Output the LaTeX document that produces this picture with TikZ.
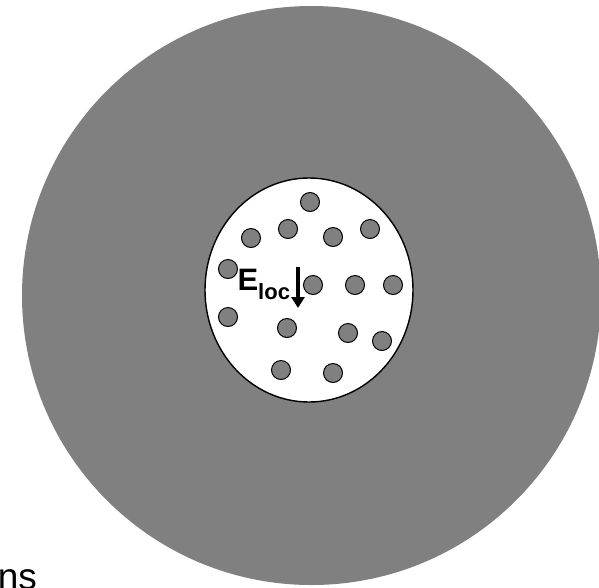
\documentclass[tikz,border=0pt]{standalone}
\usepackage{fontspec}
\setmainfont{Liberation Sans}
\usetikzlibrary{arrows.meta}
\definecolor{midgray}{RGB}{128,128,128}
\tikzset{
  particle/.style={circle,draw=black,fill=midgray,line width=1pt,minimum size=19pt,inner sep=0pt},
  txt/.style={inner sep=0pt,anchor=base west},
}
\begin{document}
\begin{tikzpicture}[x=1pt,y=-1pt]
\useasboundingbox (0,0) rectangle (599,587);
\fill[midgray] (311.5,295.5) circle[radius=289.5];
\draw[fill=white,line width=1.4pt] (309,290) ellipse[x radius=104,y radius=112];
\node[particle] (p1) at (310,202) {};
\node[particle] (p2) at (251,238) {};
\node[particle] (p3) at (288,229) {};
\node[particle] (p4) at (333,237) {};
\node[particle] (p5) at (370,229) {};
\node[particle] (p6) at (228,269) {};
\node[particle] (p7) at (313,285) {};
\node[particle] (p8) at (355,285) {};
\node[particle] (p9) at (393,285) {};
\node[particle] (p10) at (228,317) {};
\node[particle] (p11) at (287,328) {};
\node[particle] (p12) at (348,333) {};
\node[particle] (p13) at (382,341) {};
\node[particle] (p14) at (281,370) {};
\node[particle] (p15) at (333,373) {};
\node[txt,font=\bfseries\fontsize{31}{36}\selectfont] (E) at (237.5,290.5) {E};
\node[txt,font=\bfseries\fontsize{22}{26}\selectfont] (loc) at (258,299) {loc};
\coordinate (a1) at (298,267);
\coordinate (a2) at (298,308);
\draw[line width=3.5pt,-{Triangle[width=13pt,length=11pt]}] (a1) -- (a2);
\node[txt,font=\fontsize{37}{44}\selectfont] (ns) at (-2.4,589) {ns};
\end{tikzpicture}
\end{document}
